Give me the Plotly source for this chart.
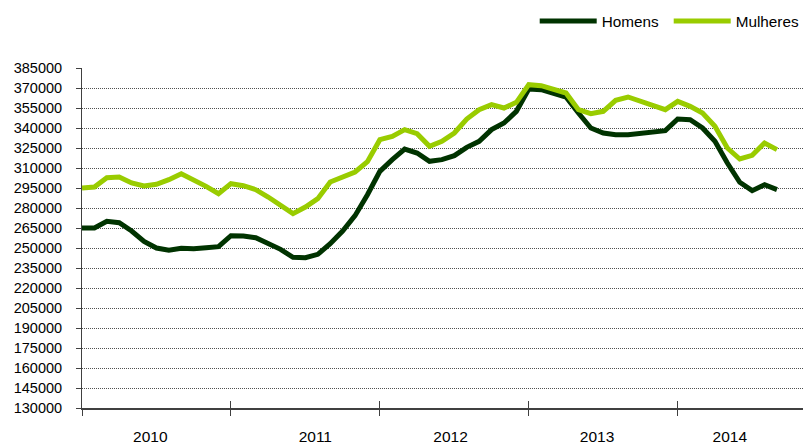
import plotly.graph_objects as go

months = list(range(57))  # Jan 2010 .. Sep 2014

homens = [265000, 265000, 270000, 269000, 262750, 255000, 250000, 248250, 249750, 249500, 250250, 251000,
          259250, 259000, 257750, 253250, 249000, 243000, 242750, 245250, 253250, 262750, 274250, 290000,
          307500, 316250, 324250, 321250, 315000, 316250, 319250, 325500, 330000, 338750, 343750, 352500,
          369250, 368750, 366250, 363250, 351250, 340000, 336250, 335000, 335000, 335750, 336750, 338000,
          346750, 346250, 340000, 330000, 313750, 299250, 293000, 297500, 293750]

mulheres = [295000, 295750, 302750, 303250, 298750, 296500, 297750, 301250, 305750, 301250, 296250, 290750,
            298250, 296750, 293750, 288250, 282000, 275750, 280750, 287000, 299500, 303250, 307000, 314750,
            331250, 333750, 338750, 335750, 326250, 330000, 336250, 346750, 353750, 357500, 355000, 359250,
            372500, 371750, 369250, 366250, 353750, 350750, 352500, 360750, 363250, 360000, 356750, 353750,
            360000, 356250, 351250, 341250, 325000, 316750, 319500, 328750, 323750]

year_labels = ["2010", "2011", "2012", "2013", "2014"]
year_label_pos = [5.5, 18.8, 29.7, 41.5, 52.2]
year_ticks = [0, 12, 24, 36, 48]
y_ticks = list(range(130000, 385001, 15000))

x_range = [0, 58.74]
font = "Liberation Sans, Arial, sans-serif"

fig = go.Figure()
fig.add_trace(go.Scatter(x=months, y=homens, name="Homens", mode="lines",
                         line=dict(color="#003300", width=5)))
fig.add_trace(go.Scatter(x=months, y=mulheres, name="Mulheres", mode="lines",
                         line=dict(color="#99cc00", width=5)))
# invisible helpers so the overlay axes render
fig.add_trace(go.Scatter(x=[None], y=[None], xaxis="x2", showlegend=False, hoverinfo="skip"))
fig.add_trace(go.Scatter(x=[None], y=[None], xaxis="x3", showlegend=False, hoverinfo="skip"))

fig.update_layout(
    width=803, height=436,
    margin=dict(l=74, r=0, t=60, b=36, autoexpand=False),
    paper_bgcolor="white", plot_bgcolor="white",
    font=dict(family=font, color="#000000"),
    showlegend=True,
    legend=dict(orientation="h", x=0.621, xanchor="left", y=1.138, yanchor="middle",
                font=dict(size=15.3, family=font), itemwidth=57, bgcolor="rgba(0,0,0,0)",
                traceorder="normal", entrywidth=62, entrywidthmode="pixels"),
    xaxis=dict(range=x_range, tickmode="array", tickvals=year_label_pos, ticktext=year_labels,
               ticks="", showgrid=False, zeroline=False, showline=True, linecolor="#404040",
               linewidth=2, tickfont=dict(size=15.5, family=font), ticklabelstandoff=13,
               automargin=False),
    xaxis2=dict(range=x_range, overlaying="x", anchor="y", side="bottom", tickmode="array",
                tickvals=year_ticks, showticklabels=False, ticks="outside", ticklen=7,
                tickcolor="#404040", tickwidth=1, showgrid=False, zeroline=False, showline=False,
                automargin=False),
    xaxis3=dict(range=x_range, overlaying="x", anchor="y", side="bottom", tickmode="array",
                tickvals=year_ticks, showticklabels=False, ticks="inside", ticklen=7,
                tickcolor="#404040", tickwidth=1, showgrid=False, zeroline=False, showline=False,
                automargin=False),
    yaxis=dict(range=[130000, 385000], tickmode="array", tickvals=y_ticks,
               ticktext=[str(v) for v in y_ticks], ticks="outside", ticklen=5,
               tickcolor="#404040", showgrid=True, gridcolor="#505050", griddash="1px,1px",
               gridwidth=1, zeroline=False, showline=True, linecolor="#404040", linewidth=1,
               tickfont=dict(size=14.5, family=font), ticklabelstandoff=11, automargin=False),
)

fig.write_html("out.html")
